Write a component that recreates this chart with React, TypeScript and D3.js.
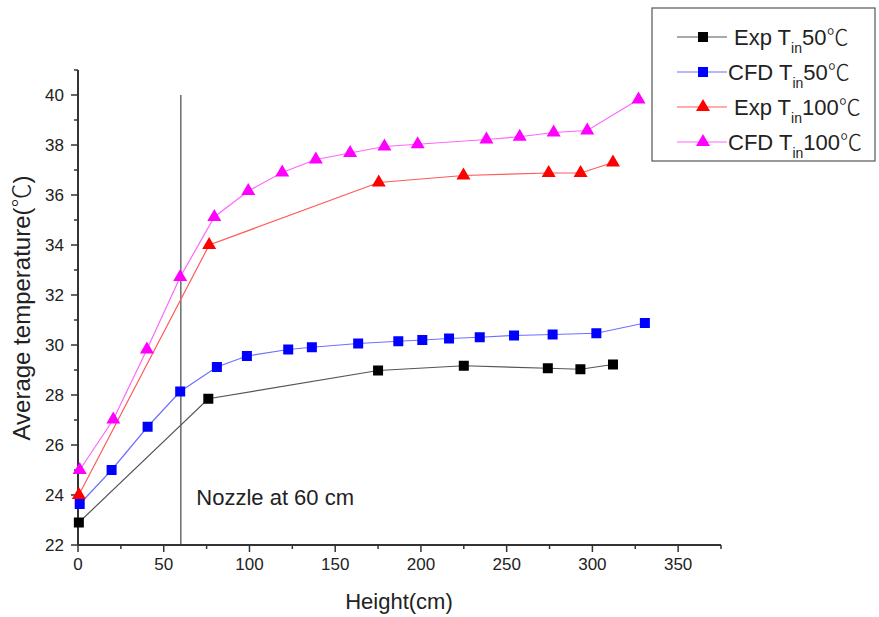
import { useEffect, useRef } from "react";
import * as d3 from "d3";

// Height (cm) / temperature (℃)
const exp50X = [0.5, 76, 175, 225, 274, 293, 312];
const exp50Y = [22.9, 27.85, 28.98, 29.17, 29.07, 29.03, 29.22];

const cfd50X = [1, 19.6, 40.6, 59.6, 81, 98.5, 122.6, 136.4, 163.4, 186.8, 200.8, 216.4, 234.3, 254.3, 276.8, 302.3, 330.6];
const cfd50Y = [23.64, 25.0, 26.73, 28.14, 29.12, 29.56, 29.82, 29.91, 30.06, 30.15, 30.2, 30.26, 30.31, 30.38, 30.42, 30.47, 30.88];

const exp100X = [0.5, 76.5, 175.4, 224.8, 274.5, 293.1, 312];
const exp100Y = [24.0, 34.0, 36.5, 36.78, 36.88, 36.88, 37.3];

const cfd100X = [1, 20.6, 40.2, 59.6, 79.5, 99.3, 119.1, 138.7, 158.7, 178.7, 198.1, 238.2, 257.6, 277.4, 297, 326.9];
const cfd100Y = [25.0, 27.02, 29.82, 32.72, 35.12, 36.16, 36.9, 37.42, 37.68, 37.94, 38.03, 38.22, 38.33, 38.5, 38.58, 39.82];

const xTicks = [0, 50, 100, 150, 200, 250, 300, 350];
const yTicks = [22, 24, 26, 28, 30, 32, 34, 36, 38, 40];

const series = [
  { name: "Exp", tin: "50", xs: exp50X, ys: exp50Y, color: "#000000", line: "#555555", shape: "square" },
  { name: "CFD", tin: "50", xs: cfd50X, ys: cfd50Y, color: "#0000ff", line: "#6f6fff", shape: "square" },
  { name: "Exp", tin: "100", xs: exp100X, ys: exp100Y, color: "#ff0000", line: "#ff5a5a", shape: "triangle" },
  { name: "CFD", tin: "100", xs: cfd100X, ys: cfd100Y, color: "#ff00ff", line: "#ff66ff", shape: "triangle" },
];

const FONT = "'Liberation Sans', Arial, sans-serif";
const CJK = "'Noto Sans CJK SC', sans-serif";

const App = () => {
  const svgRef = useRef<SVGSVGElement>(null);

  useEffect(() => {
    const w = 879;
    const h = 617;
    const svg = d3.select(svgRef.current).attr("width", w).attr("height", h);
    svg.selectAll("*").remove();

    const x = d3.scaleLinear().domain([0, 375]).range([78, 721]);
    const y = d3.scaleLinear().domain([22, 41]).range([545, 70]);

    // nozzle marker line
    svg.append("line")
      .attr("x1", x(60)).attr("x2", x(60))
      .attr("y1", y(22)).attr("y2", y(40))
      .attr("stroke", "#222").attr("stroke-width", 1);

    svg.append("text")
      .attr("x", x(69)).attr("y", 505)
      .attr("font-family", FONT).attr("font-size", 22).attr("fill", "#222")
      .text("Nozzle at 60 cm");

    // axes
    const axisColor = "#333";
    const xAxis = svg.append("g").attr("transform", `translate(0,${y(22)})`);
    xAxis.append("line").attr("x1", x(0)).attr("x2", x(375)).attr("stroke", axisColor).attr("stroke-width", 2);
    d3.range(0, 376, 25).forEach((v) => {
      const major = v % 50 === 0;
      xAxis.append("line").attr("x1", x(v)).attr("x2", x(v)).attr("y1", 0).attr("y2", major ? 7 : 4)
        .attr("stroke", axisColor).attr("stroke-width", 1.5);
    });
    xTicks.forEach((v) => {
      xAxis.append("text").attr("x", x(v)).attr("y", 25).attr("text-anchor", "middle")
        .attr("font-family", FONT).attr("font-size", 17).attr("fill", "#222").text(v);
    });

    const yAxis = svg.append("g").attr("transform", `translate(${x(0)},0)`);
    yAxis.append("line").attr("y1", y(22)).attr("y2", y(41)).attr("stroke", axisColor).attr("stroke-width", 2);
    d3.range(22, 41.01, 1).forEach((v) => {
      const major = v % 2 === 0;
      yAxis.append("line").attr("y1", y(v)).attr("y2", y(v)).attr("x1", 0).attr("x2", major ? -7 : -4)
        .attr("stroke", axisColor).attr("stroke-width", 1.5);
    });
    yTicks.forEach((v) => {
      yAxis.append("text").attr("x", -14).attr("y", y(v) + 6).attr("text-anchor", "end")
        .attr("font-family", FONT).attr("font-size", 17).attr("fill", "#222").text(v);
    });

    svg.append("text").attr("x", 399).attr("y", 609).attr("text-anchor", "middle")
      .attr("font-family", FONT).attr("font-size", 22).attr("fill", "#222").text("Height(cm)");
    const yl = svg.append("text").attr("transform", "translate(30,308) rotate(-90)").attr("text-anchor", "middle")
      .attr("font-family", FONT).attr("font-size", 24).attr("fill", "#222");
    yl.append("tspan").text("Average temperature(");
    yl.append("tspan").attr("font-family", CJK).attr("font-weight", 300).text("℃");
    yl.append("tspan").text(")");

    const drawMarker = (g: any, cx: number, cy: number, shape: string, color: string) => {
      if (shape === "square") {
        g.append("rect").attr("x", cx - 5).attr("y", cy - 5).attr("width", 10).attr("height", 10).attr("fill", color);
      } else {
        g.append("path").attr("d", d3.symbol(d3.symbolTriangle, 85)()).attr("transform", `translate(${cx},${cy})`).attr("fill", color);
      }
    };

    const line = d3.line<[number, number]>().x((d) => x(d[0])).y((d) => y(d[1]));
    series.forEach((s) => {
      const pts: [number, number][] = s.xs.map((v, i) => [v, s.ys[i]]);
      const g = svg.append("g");
      g.append("path").attr("d", line(pts)).attr("fill", "none").attr("stroke", s.line).attr("stroke-width", 1.2);
      pts.forEach((p) => drawMarker(g, x(p[0]), y(p[1]), s.shape, s.color));
    });

    // legend
    const lg = svg.append("g");
    lg.append("rect").attr("x", 652).attr("y", 8).attr("width", 223).attr("height", 153)
      .attr("fill", "white").attr("stroke", "#555").attr("stroke-width", 1.2);
    series.forEach((s, i) => {
      const ly = 37 + i * 35;
      lg.append("line").attr("x1", 677).attr("x2", 727).attr("y1", ly).attr("y2", ly).attr("stroke", s.line).attr("stroke-width", 1.2);
      drawMarker(lg, 703, ly, s.shape, s.color);
      const t = lg.append("text").attr("x", s.name === "Exp" ? 734 : 728).attr("y", ly + 8)
        .attr("font-family", FONT).attr("font-size", 22).attr("fill", "#222");
      t.append("tspan").text(`${s.name} T`);
      t.append("tspan").attr("font-size", 14).attr("dy", 8).text("in");
      t.append("tspan").attr("dy", -8).text(s.tin);
      t.append("tspan").attr("font-family", CJK).attr("font-weight", 300).text("℃");
    });
  }, []);

  return <svg ref={svgRef} style={{ position: "absolute", left: 0, top: 0, display: "block" }}></svg>;
};

export default App;
